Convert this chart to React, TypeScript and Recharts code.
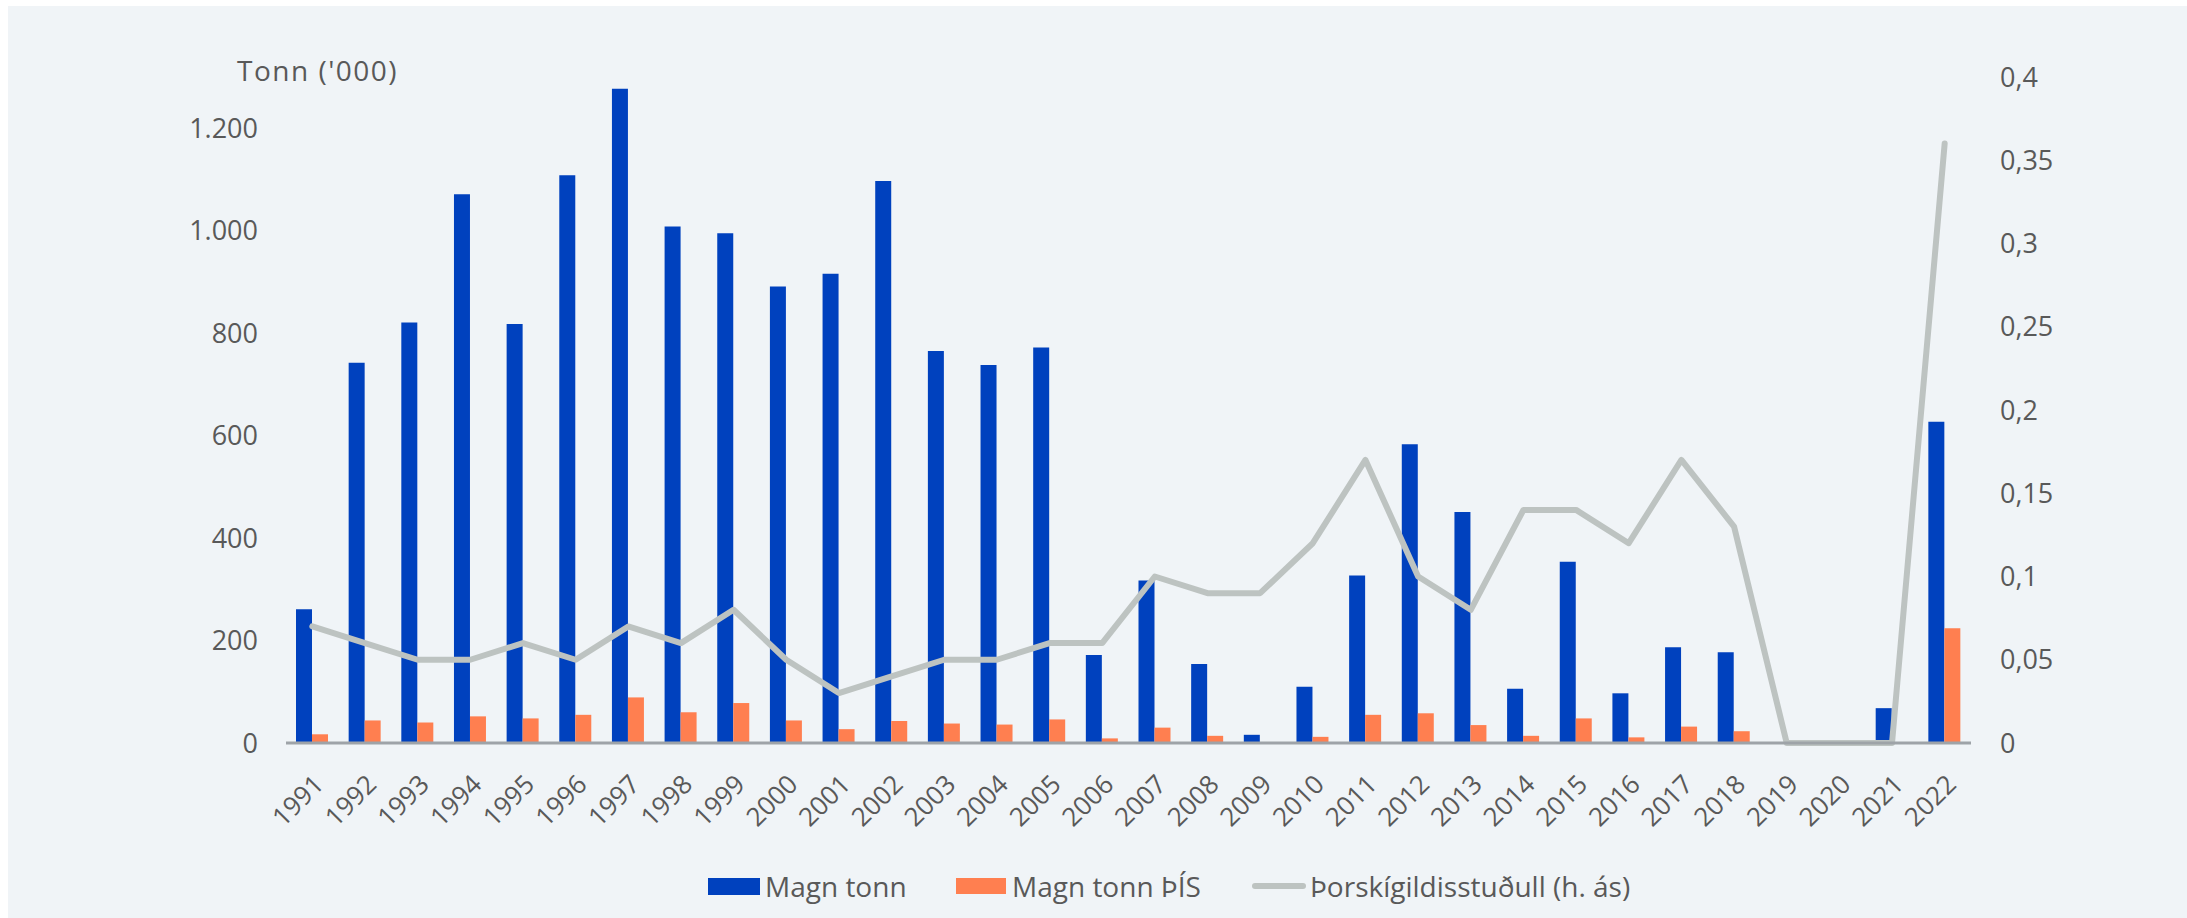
import { ComposedChart, Bar, Line, XAxis, YAxis, Legend } from "recharts";

// Ár
const years = [
  "1991", "1992", "1993", "1994", "1995", "1996", "1997", "1998",
  "1999", "2000", "2001", "2002", "2003", "2004", "2005", "2006",
  "2007", "2008", "2009", "2010", "2011", "2012", "2013", "2014",
  "2015", "2016", "2017", "2018", "2019", "2020", "2021", "2022",
];

// Magn tonn ('000)
const magnTonn = [
  261, 742, 821, 1071, 818, 1108, 1277, 1008,
  995, 891, 916, 1097, 765, 738, 772, 172,
  317, 154, 16, 110, 327, 583, 451, 106,
  354, 97, 187, 177, 0, 0, 68, 627,
];

// Magn tonn ÞÍS ('000)
const magnTonnPIS = [
  17, 44, 40, 52, 48, 55, 89, 60,
  78, 44, 27, 43, 38, 36, 46, 9,
  30, 14, 0, 12, 55, 58, 35, 14,
  48, 11, 32, 23, 0, 0, 0, 224,
];

// Þorskígildisstuðull (hægri ás)
const thorskigildi = [
  0.07, 0.06, 0.05, 0.05, 0.06, 0.05, 0.07, 0.06,
  0.08, 0.05, 0.03, 0.04, 0.05, 0.05, 0.06, 0.06,
  0.1, 0.09, 0.09, 0.12, 0.17, 0.1, 0.08, 0.14,
  0.14, 0.12, 0.17, 0.13, 0, 0, 0, 0.36,
];

const leftTicks = [0, 200, 400, 600, 800, 1000, 1200];
const rightTicks = [0, 0.05, 0.1, 0.15, 0.2, 0.25, 0.3, 0.35, 0.4];

const BLUE = "#0041be";
const ORANGE = "#ff7f50";
const GREY = "#bdc3c1";
const TEXT = "#595959";
const FONT = "'Open Sans', sans-serif";

const data = years.map((year, i) => ({
  year,
  magn: magnTonn[i],
  magnPIS: magnTonnPIS[i],
  stud: thorskigildi[i],
}));

const fmtLeft = (v: number) =>
  String(v).replace(/\B(?=(\d{3})+(?!\d))/g, ".");
const fmtRight = (v: number) => String(v).replace(".", ",");

const YearTick = (props: any) => {
  const { x, y, payload } = props;
  const ax = x + 13;
  const ay = y + 43;
  return (
    <text
      x={ax}
      y={ay}
      transform={`rotate(-45, ${ax}, ${ay})`}
      textAnchor="end"
      fill={TEXT}
      fontSize={26}
      fontFamily={FONT}
    >
      {payload.value}
    </text>
  );
};

const TonnLabel = (props: any) => {
  const { viewBox } = props;
  return (
    <text
      x={viewBox.x + 51}
      y={viewBox.y - 3}
      dominantBaseline="middle"
      fill={TEXT}
      fontSize={28}
      fontFamily={FONT}
      letterSpacing={1.5}
    >
      Tonn ('000)
    </text>
  );
};

const renderLegend = () => (
  <div
    style={{
      position: "relative",
      height: 40,
      fontFamily: FONT,
      fontSize: 28,
      color: TEXT,
    }}
  >
    <div style={{ position: "absolute", left: 700, top: 0, height: 40, display: "flex", alignItems: "center" }}>
      <span style={{ width: 52, height: 17, background: BLUE, marginRight: 5 }} />
      <span>Magn tonn</span>
    </div>
    <div style={{ position: "absolute", left: 948, top: 0, height: 40, display: "flex", alignItems: "center" }}>
      <span style={{ width: 50, height: 16, background: ORANGE, marginRight: 6 }} />
      <span>Magn tonn ÞÍS</span>
    </div>
    <div style={{ position: "absolute", left: 1244, top: 0, height: 40, display: "flex", alignItems: "center" }}>
      <span style={{ width: 54, height: 6, borderRadius: 3, background: GREY, marginRight: 4 }} />
      <span>Þorskígildisstuðull (h. ás)</span>
    </div>
  </div>
);

export default function App() {
  return (
    <div
      style={{
        position: "absolute",
        left: 8,
        top: 6,
        width: 2179,
        height: 912,
        background: "#f0f4f7",
      }}
    >
      <ComposedChart
        width={2179}
        height={912}
        data={data}
        margin={{ top: 71, right: 116, bottom: 55, left: 178 }}
        barSize={16}
        barGap={0}
      >
        <XAxis
          dataKey="year"
          interval={0}
          height={80}
          tickSize={0}
          tickMargin={0}
          tick={<YearTick />}
          axisLine={{ stroke: "#9ea3a8", strokeWidth: 3 }}
          tickLine={false}
        />
        <YAxis
          yAxisId="left"
          orientation="left"
          width={100}
          domain={[0, 1300]}
          ticks={leftTicks}
          tickFormatter={fmtLeft}
          axisLine={false}
          tickLine={false}
          tickSize={0}
          tickMargin={28}
          tick={{ fill: TEXT, fontSize: 27, fontFamily: FONT }}
          label={<TonnLabel />}
        />
        <YAxis
          yAxisId="right"
          orientation="right"
          width={100}
          domain={[0, 0.4]}
          ticks={rightTicks}
          tickFormatter={fmtRight}
          axisLine={false}
          tickLine={false}
          tickSize={0}
          tickMargin={29}
          tick={{ fill: TEXT, fontSize: 27, fontFamily: FONT, textAnchor: "start" }}
        />
        <Bar
          yAxisId="left"
          dataKey="magn"
          name="Magn tonn"
          fill={BLUE}
          isAnimationActive={false}
        />
        <Bar
          yAxisId="left"
          dataKey="magnPIS"
          name="Magn tonn ÞÍS"
          fill={ORANGE}
          isAnimationActive={false}
        />
        <Line
          yAxisId="right"
          dataKey="stud"
          name="Þorskígildisstuðull (h. ás)"
          type="linear"
          stroke={GREY}
          strokeWidth={6}
          strokeLinejoin="round"
          strokeLinecap="round"
          dot={false}
          isAnimationActive={false}
        />
        <Legend
          verticalAlign="bottom"
          content={renderLegend}
          wrapperStyle={{ left: 0, bottom: 12, width: 2179, height: 40 }}
        />
      </ComposedChart>
    </div>
  );
}
